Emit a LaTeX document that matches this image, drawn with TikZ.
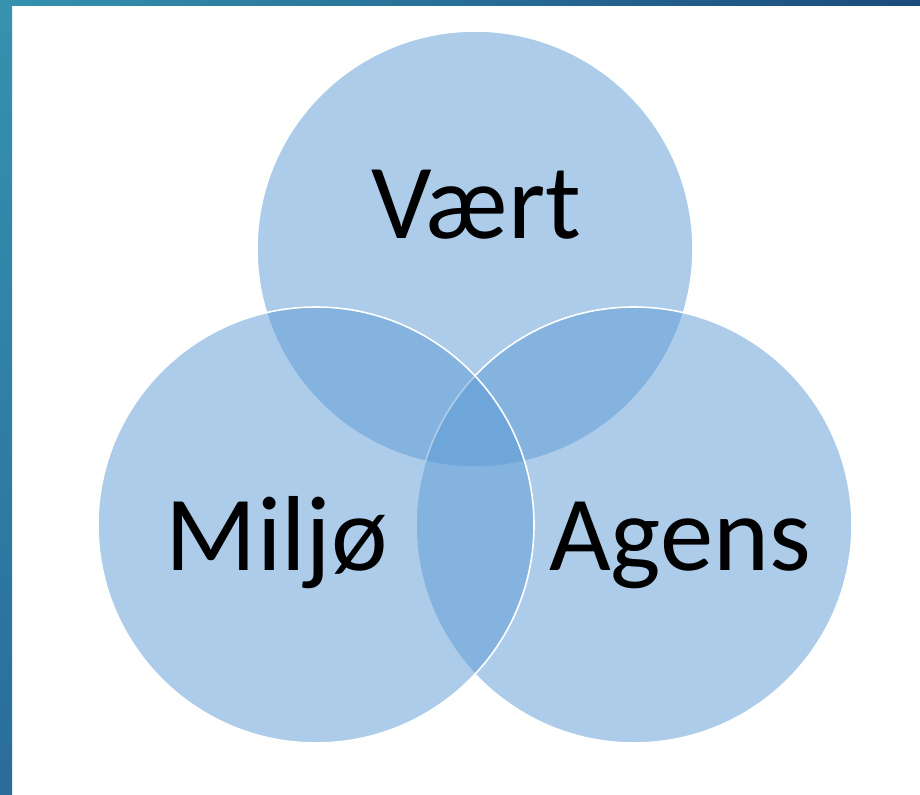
\documentclass[tikz,border=0pt]{standalone}
\usepackage{fontspec}
\setmainfont{Carlito}
\usetikzlibrary{positioning}

\definecolor{setblue}{HTML}{5B9BD5}
\definecolor{edgeteal}{HTML}{3592AF}
\definecolor{edgeblue}{HTML}{2A6C9B}
\definecolor{edgenavy}{HTML}{1A4A7D}

\tikzset{
  setcircle/.style={fill=setblue,fill opacity=0.5,draw=white,draw opacity=1,line width=1.2pt},
  setlabel/.style={anchor=base,inner sep=0pt,font=\fontsize{80}{84}\selectfont}
}

\begin{document}
\begin{tikzpicture}[x=0.75pt,y=-0.75pt]

% ---------------- FRAME ----------------
\useasboundingbox (0,0) rectangle (920,795);
\fill[white] (0,0) rectangle (920,795);

% left strip and top strip
\shade[top color=edgeteal,bottom color=edgeblue] (0,0) rectangle (12,795);
\shade[left color=edgeteal,right color=edgenavy] (0,0) rectangle (920,6);

% ---------------- CIRCLES ----------------
\draw[setcircle] (475,249) circle[radius=163.5pt];
\draw[setcircle] (634,525) circle[radius=163.5pt];
\draw[setcircle] (316,525) circle[radius=163.5pt];

% ---------------- LABELS ----------------
\node[setlabel] (vert) at (476,238) {Vært};
\node[setlabel] (milj) at (277,570) {Miljø};
\node[setlabel] (agens) at (680,570) {Agens};

\end{tikzpicture}
\end{document}
